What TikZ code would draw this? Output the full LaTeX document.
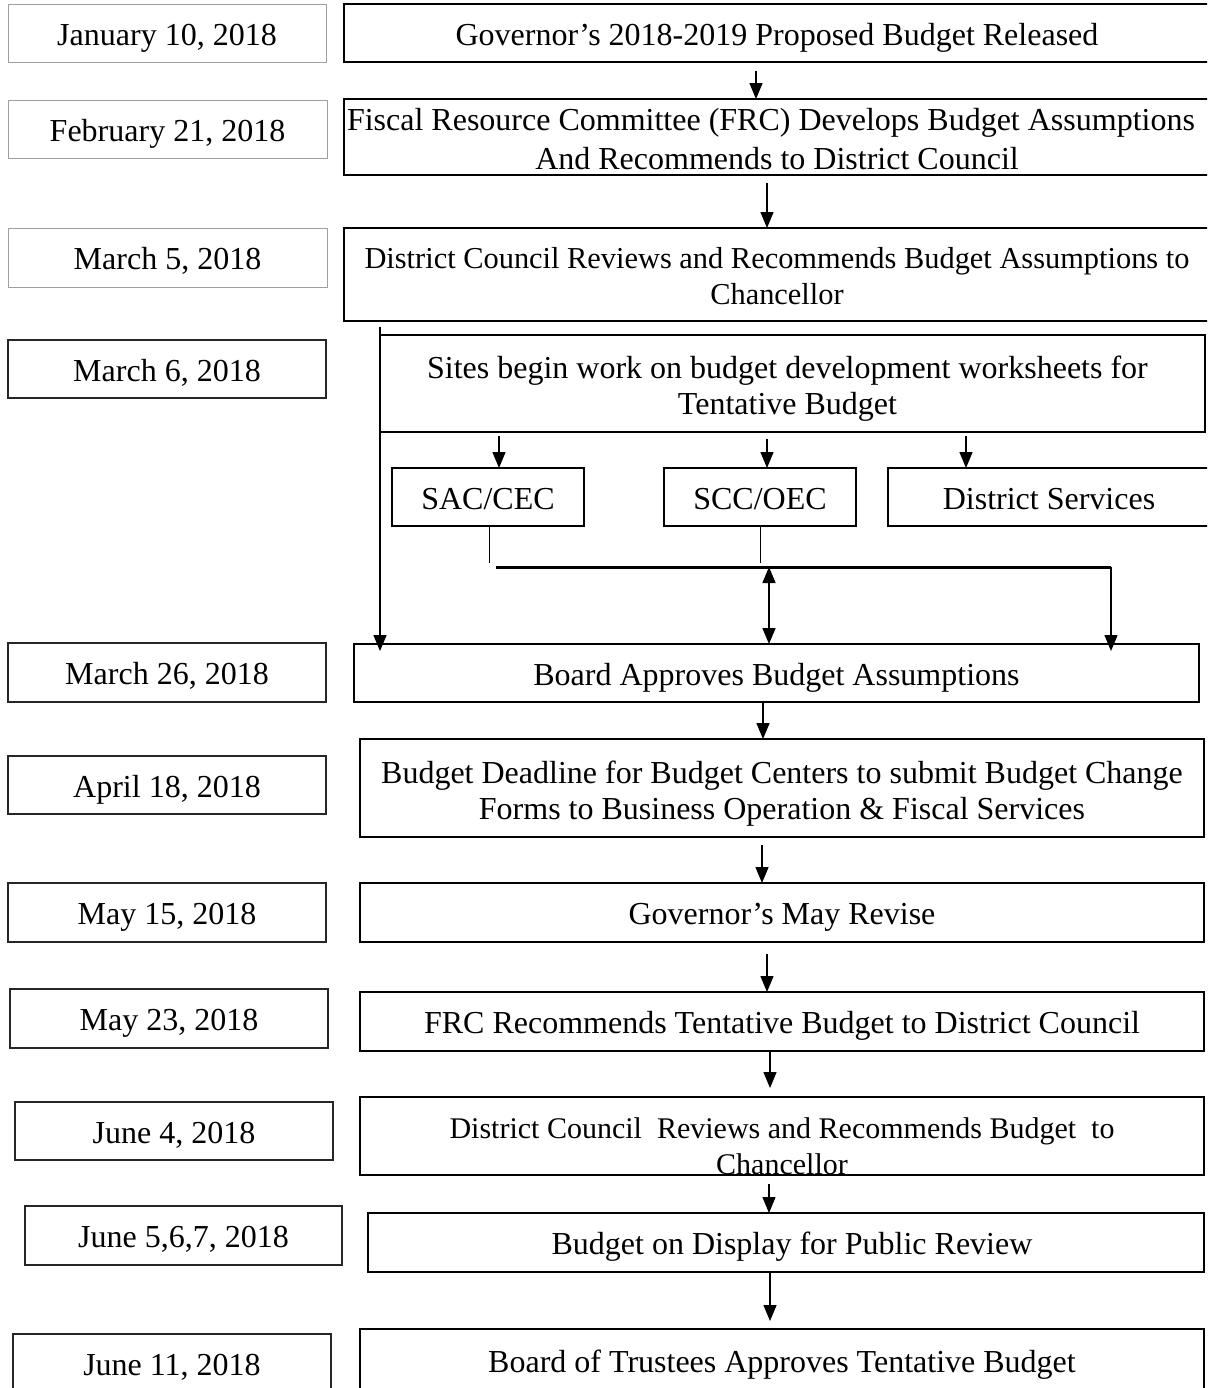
\documentclass[tikz,border=0pt]{standalone}
\usepackage{fontspec}
\setmainfont{Liberation Serif}
\usetikzlibrary{arrows.meta}
\newcommand{\lowr}[1]{\rule{0pt}{#1}}
\begin{document}
\begin{tikzpicture}[x=0.5pt,y=-0.5pt,
  one/.style={text height=15pt, text depth=3pt},
  dbox/.style={draw=gray!75, line width=0.5pt, inner sep=0pt, outer sep=0pt, one, font=\fontsize{16}{18}\selectfont},
  dboxb/.style={dbox, draw=black!85, line width=0.75pt},
  rbox/.style={draw=black, line width=1pt, inner sep=0pt, outer sep=0pt, align=center, font=\fontsize{16}{18}\selectfont},
  sbox/.style={draw=black, line width=0.65pt, inner sep=0pt, outer sep=0pt, one, font=\fontsize{16}{18}\selectfont},
  arr/.style={line width=0.7pt, -{Triangle[length=8pt,width=6.5pt]}},
  darr/.style={line width=0.8pt, {Triangle[length=8pt,width=6.5pt]}-{Triangle[length=8pt,width=6.5pt]}},
  thin/.style={line width=0.5pt},
  thick/.style={line width=1.5pt}]
\clip (0,0) rectangle (1207,1388);
\fill[white] (0,0) rectangle (1207,1388);

% date boxes
\node[dbox, minimum width=159pt, minimum height=29pt] (d1) at (167,33) {January 10, 2018};
\node[dbox, minimum width=159.5pt, minimum height=29pt] (d2) at (167.5,129) {February 21, 2018};
\node[dbox, minimum width=159.5pt, minimum height=29.5pt] (d3) at (167.5,257.5) {March 5, 2018};
\node[dboxb, minimum width=159pt, minimum height=29pt] (d4) at (167,369) {March 6, 2018};
\node[dboxb, minimum width=159pt, minimum height=29.5pt] (d5) at (167,672.5) {March 26, 2018};
\node[dboxb, minimum width=159pt, minimum height=29pt] (d6) at (167,785) {April 18, 2018};
\node[dboxb, minimum width=159pt, minimum height=29.5pt] (d7) at (167,912.5) {May 15, 2018};
\node[dboxb, minimum width=159pt, minimum height=29.5pt] (d8) at (169,1018.5) {May 23, 2018};
\node[dboxb, minimum width=159pt, minimum height=29pt] (d9) at (174,1131) {June 4, 2018};
\node[dboxb, minimum width=158.5pt, minimum height=29.5pt] (d10) at (183.5,1235.5) {June 5,6,7, 2018};
\node[dboxb, minimum width=159pt, minimum height=29pt] (d11) at (172,1363) {June 11, 2018};

% right boxes
\node[rbox, one, minimum width=433pt, minimum height=29pt] (r1) at (777,33) {Governor’s 2018-2019 Proposed Budget Released};
\node[rbox, minimum width=433pt, minimum height=38pt, font=\fontsize{16}{19.5}\selectfont] (r2) at (777,137) {\lowr{13pt}\hspace*{-6pt}Fiscal Resource Committee (FRC) Develops Budget Assumptions\\And Recommends to District Council};
\node[rbox, minimum width=433pt, minimum height=46.5pt, font=\fontsize{15.2}{18}\selectfont] (r3) at (777,274.5) {\lowr{12.5pt}District Council Reviews and Recommends Budget Assumptions to\\Chancellor};
\node[rbox, minimum width=412.5pt, minimum height=48.5pt] (r4) at (792.5,383.5) {\lowr{16pt}\hspace*{-5pt}Sites begin work on budget development worksheets for\\\hspace*{-5pt}Tentative Budget};
\node[sbox, minimum width=96pt, minimum height=29pt] (s1) at (488,497) {SAC/CEC};
\node[sbox, minimum width=96pt, minimum height=29pt] (s2) at (760,497) {SCC/OEC};
\node[sbox, minimum width=161pt, minimum height=29pt] (s3) at (1049,497) {District Services};
\node[rbox, one, minimum width=422.5pt, minimum height=29pt] (r5) at (776.5,673) {Board Approves Budget Assumptions};
\node[rbox, minimum width=422pt, minimum height=49pt] (r6) at (782,788) {\lowr{17pt}Budget Deadline for Budget Centers to submit Budget Change\\Forms to Business Operation \& Fiscal Services};
\node[rbox, one, minimum width=422pt, minimum height=29.5pt] (r7) at (782,912.5) {Governor’s May Revise};
\node[rbox, one, minimum width=422pt, minimum height=29.5pt] (r8) at (782,1021.5) {FRC Recommends Tentative Budget to District Council};
\node[rbox, minimum width=422pt, minimum height=39pt] (r9) at (782,1136) {};
\node[align=center, inner sep=0pt, font=\fontsize{15}{18}\selectfont] (r9t) at (782,1146) {District Council~ Reviews and Recommends Budget~ to\\Chancellor};
\node[rbox, one, minimum width=418pt, minimum height=29.5pt] (r10) at (786,1242.5) {\hspace*{6pt}Budget on Display for Public Review};
\node[rbox, one, minimum width=422pt, minimum height=31.5pt] (r11) at (782,1360.5) {Board of Trustees Approves Tentative Budget};

% connectors
\coordinate (c1) at (756,71);
\draw[arr] (c1) -- (c1 |- r2.north);
\coordinate (c2) at (767,183);
\draw[arr] (c2) -- (c2 |- r3.north);
\coordinate (v0) at (380,327);
\coordinate (v1) at (380,651);
\draw[arr] (v0) -- (v1);
\coordinate (c4) at (499,436);
\draw[arr] (c4) -- (c4 |- s1.north);
\coordinate (c5) at (767,439);
\draw[arr] (c5) -- (c5 |- s2.north);
\coordinate (c6) at (966,436);
\draw[arr] (c6) -- (c6 |- s3.north);
\coordinate (l1) at (489,563);
\draw[thin] (l1 |- s1.south) -- (l1);
\coordinate (l2) at (760,563);
\draw[thin] (l2 |- s2.south) -- (l2);
\coordinate (h0) at (496,567);
\coordinate (h1) at (1111,567);
\coordinate (h2) at (1111,651);
\draw[thick] (h0) -- (h1);
\draw[arr] (h1) -- (h2);
\coordinate (m0) at (769,567);
\draw[darr] (m0) -- (m0 |- r5.north);
\coordinate (c7) at (763,702);
\draw[arr] (c7) -- (c7 |- r6.north);
\coordinate (c8) at (762,845);
\draw[arr] (c8) -- (c8 |- r7.north);
\coordinate (c9) at (767,954);
\draw[arr] (c9) -- (c9 |- r8.north);
\coordinate (c10) at (770,1051);
\coordinate (e10) at (770,1088);
\draw[arr] (c10) -- (e10);
\coordinate (c11) at (769,1184);
\draw[arr] (c11) -- (c11 |- r10.north);
\coordinate (c12) at (770,1272);
\coordinate (e12) at (770,1321);
\draw[arr] (c12) -- (e12);
\end{tikzpicture}
\end{document}
